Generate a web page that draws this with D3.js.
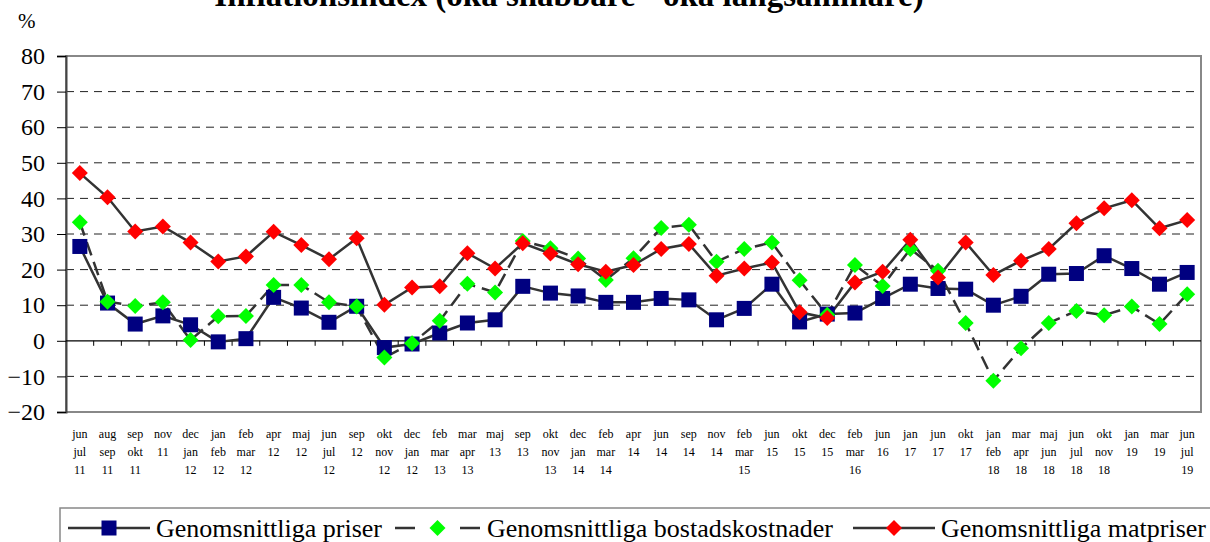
<!DOCTYPE html>
<html>
<head>
<meta charset="utf-8">
<script src="https://cdn.jsdelivr.net/npm/d3@7"></script>
<style>
  body { margin: 0; background: #fff; }
</style>
</head>
<body>
<div id="chart"></div>
<script>
const categories = [
  "jun jul 11", "aug sep 11", "sep okt 11", "nov 11", "dec jan 12", "jan feb 12", "feb mar 12",
  "apr 12", "maj 12", "jun jul 12", "sep 12", "okt nov 12", "dec jan 12", "feb mar 13",
  "mar apr 13", "maj 13", "sep 13", "okt nov 13", "dec jan 14", "feb mar 14", "apr 14",
  "jun 14", "sep 14", "nov 14", "feb mar 15", "jun 15", "okt 15", "dec 15", "feb mar 16",
  "jun 16", "jan 17", "jun 17", "okt 17", "jan feb 18", "mar apr 18", "maj jun 18",
  "jun jul 18", "okt nov 18", "jan 19", "mar 19", "jun jul 19"
]
const priser = [
  26.5, 10.6, 4.7, 7.0, 4.5, -0.3, 0.6, 12.2, 9.2, 5.2, 9.7, -1.9, -0.9, 2.2,
  5.0, 5.9, 15.3, 13.4, 12.6, 10.8, 10.8, 11.9, 11.5, 5.9, 9.1, 15.9, 5.3, 7.5,
  7.8, 11.9, 15.9, 14.7, 14.5, 10.0, 12.5, 18.7, 18.9, 23.9, 20.3, 15.9, 19.2
]
const bostad = [
  33.3, 11.0, 9.8, 10.8, 0.2, 6.9, 7.0, 15.7, 15.7, 10.8, 9.6, -4.7, -0.7, 5.6,
  16.0, 13.6, 28.0, 26.0, 23.1, 17.1, 23.2, 31.7, 32.6, 22.2, 25.8, 27.6, 17.0, 7.3,
  21.3, 15.4, 25.8, 19.7, 5.0, -11.2, -2.1, 5.0, 8.4, 7.2, 9.6, 4.7, 13.1
]
const matpriser = [
  47.1, 40.3, 30.7, 32.1, 27.6, 22.3, 23.7, 30.6, 26.9, 22.9, 28.8, 10.1, 15.0, 15.3,
  24.6, 20.3, 27.4, 24.5, 21.5, 19.4, 21.3, 25.8, 27.2, 18.3, 20.3, 22.0, 8.0, 6.4,
  16.4, 19.4, 28.4, 17.8, 27.6, 18.5, 22.5, 25.8, 33.0, 37.2, 39.5, 31.6, 33.9
]
const yTicks = [-20, -10, 0, 10, 20, 30, 40, 50, 60, 70, 80]

const width = 1210, height = 542
const plotLeft = 66, plotRight = 1201, plotTop = 56, plotBottom = 412
const serif = "'Liberation Serif', 'Times New Roman', 'DejaVu Serif', serif"

const svg = d3.select("#chart").append("svg")
  .attr("width", width)
  .attr("height", height)
  .style("font-family", serif)

const x = d3.scaleBand().domain(d3.range(categories.length)).range([plotLeft, plotRight])
const y = d3.scaleLinear().domain([-20, 80]).range([plotBottom, plotTop])
const cx = i => x(i) + x.bandwidth() / 2

// title (top is cut off in the original)
svg.append("text")
  .attr("x", 569).attr("y", 6)
  .attr("text-anchor", "middle")
  .style("font-family", serif)
  .attr("font-size", 33).attr("font-weight", "bold")
  .text("Inflationsindex (öka snabbare - öka långsammare)")

svg.append("text")
  .attr("x", 18).attr("y", 28)
  .style("font-family", serif)
  .attr("font-size", 21)
  .text("%")

// grid lines
svg.append("g").selectAll("line")
  .data(yTicks.filter(d => d !== 0 && d !== -20 && d !== 80))
  .enter().append("line")
  .attr("x1", plotLeft).attr("x2", plotRight)
  .attr("y1", d => y(d)).attr("y2", d => y(d))
  .attr("stroke", "#222")
  .attr("stroke-width", 1)
  .attr("stroke-dasharray", "8,6")

// plot frame
svg.append("rect")
  .attr("x", plotLeft).attr("y", plotTop)
  .attr("width", plotRight - plotLeft).attr("height", plotBottom - plotTop)
  .attr("fill", "none")
  .attr("stroke", "#888")
  .attr("stroke-width", 2)

// y axis
const yAxis = svg.append("g")
  .attr("transform", `translate(${plotLeft},0)`)
  .call(d3.axisLeft(y).tickValues(yTicks).tickSize(9).tickPadding(12))
yAxis.attr("font-family", null)
yAxis.select(".domain").attr("stroke", "#444").attr("stroke-width", 2)
yAxis.selectAll(".tick line").attr("stroke", "#000")
yAxis.selectAll("text")
  .attr("font-size", 24)
  .style("font-family", serif)
  .attr("fill", "#000")

// zero line with ticks between categories
svg.append("line")
  .attr("x1", plotLeft).attr("x2", plotRight)
  .attr("y1", y(0)).attr("y2", y(0))
  .attr("stroke", "#000").attr("stroke-width", 1.2)
svg.append("g").selectAll("line")
  .data(d3.range(1, categories.length))
  .enter().append("line")
  .attr("x1", d => x(d)).attr("x2", d => x(d))
  .attr("y1", y(0)).attr("y2", y(0) + 5)
  .attr("stroke", "#000")

// x labels
const xl = svg.append("g").selectAll("text")
  .data(categories)
  .enter().append("text")
  .attr("text-anchor", "middle")
  .style("font-family", serif)
  .attr("font-size", 12)
xl.each(function(d, i) {
  const parts = d.split(" ")
  d3.select(this).selectAll("tspan")
    .data(parts)
    .enter().append("tspan")
    .attr("x", cx(i))
    .attr("y", (p, k) => 438 + k * 18)
    .text(p => p)
})

// series
const line = d3.line().x((d, i) => cx(i)).y(d => y(d))
const series = [
  { values: priser, marker: "square", color: "#000080", dash: null, name: "Genomsnittliga priser" },
  { values: bostad, marker: "diamond", color: "#00ff00", dash: "14,7", name: "Genomsnittliga bostadskostnader" },
  { values: matpriser, marker: "diamond", color: "#ff0000", dash: null, name: "Genomsnittliga matpriser" }
]

series.forEach(s => {
  svg.append("path")
    .datum(s.values)
    .attr("d", line)
    .attr("fill", "none")
    .attr("stroke", "#333")
    .attr("stroke-width", 2.5)
    .attr("stroke-dasharray", s.dash)
})

function drawMarker(g, type, color, px, py) {
  if (type === "square") {
    g.append("rect")
      .attr("x", px - 7.5).attr("y", py - 7.5)
      .attr("width", 15).attr("height", 15)
      .attr("fill", color)
  } else {
    g.append("path")
      .attr("d", `M${px},${py - 8}L${px + 8},${py}L${px},${py + 8}L${px - 8},${py}Z`)
      .attr("fill", color)
  }
}

series.forEach(s => {
  const g = svg.append("g")
  s.values.forEach((v, i) => drawMarker(g, s.marker, s.color, cx(i), y(v)))
})

// legend
svg.append("rect")
  .attr("x", 60).attr("y", 508)
  .attr("width", 1160).attr("height", 44)
  .attr("fill", "#fff")
  .attr("stroke", "#888")
  .attr("stroke-width", 1.5)

const legendPos = [
  { x1: 68, x2: 150, tx: 156 },
  { x1: 395, x2: 480, tx: 487 },
  { x1: 853, x2: 935, tx: 941 }
]
series.forEach((s, k) => {
  const p = legendPos[k]
  const g = svg.append("g")
  g.append("line")
    .attr("x1", p.x1).attr("x2", p.x2)
    .attr("y1", 528).attr("y2", 528)
    .attr("stroke", "#333").attr("stroke-width", 2.5)
    .attr("stroke-dasharray", s.dash ? "20,45" : null)
  drawMarker(g, s.marker, s.color, (p.x1 + p.x2) / 2, 528)
  g.append("text")
    .attr("x", p.tx).attr("y", 537)
    .style("font-family", serif)
    .attr("font-size", 26)
    .text(s.name)
})
</script>
</body>
</html>
